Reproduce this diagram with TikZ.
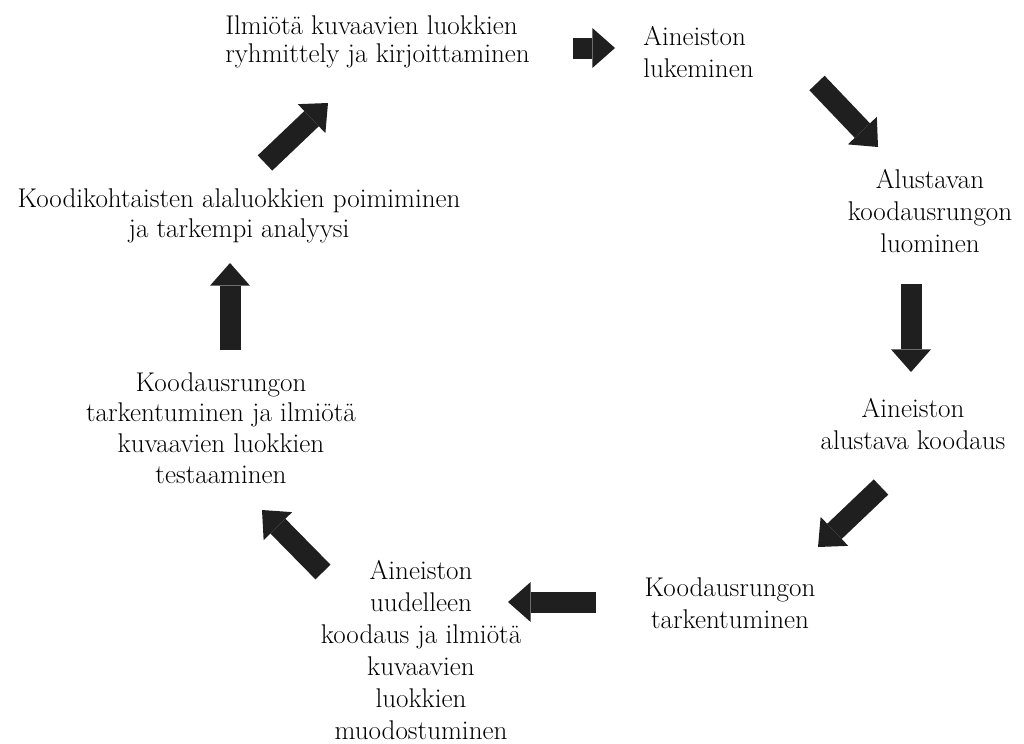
\documentclass[tikz,border=0pt]{standalone}
\usepackage{tikz}
\usetikzlibrary{arrows.meta}

\begin{document}
\begin{tikzpicture}[x=0.75pt,y=-0.75pt,
  phase/.style={inner sep=0pt,font=\fontsize{20.3}{24}\selectfont},
  blockarrow/.style={line width=15.75pt,draw=black!88,-{Triangle[length=17pt,width=30pt,line width=0pt,fill=black!88]}}]
\useasboundingbox (0,0) rectangle (1024,743);
% phases, clockwise from the top
\node[phase,align=left,anchor=west,font=\fontsize{20.3}{20.5}\selectfont] (group) at (225,42) {Ilmiötä kuvaavien luokkien\\ryhmittely ja kirjoittaminen};
\node[phase,align=left,anchor=west] (read) at (643,52) {Aineiston\\lukeminen};
\node[phase,align=center] (frame) at (930,211) {Alustavan\\koodausrungon\\luominen};
\node[phase,align=center] (precode) at (913,424) {Aineiston\\alustava koodaus};
\node[phase,align=center] (refine) at (730,603) {Koodausrungon\\tarkentuminen};
\node[phase,align=center] (recode) at (421,650) {Aineiston\\uudelleen\\koodaus ja ilmiötä\\kuvaavien\\luokkien\\muodostuminen};
\node[phase,align=center,font=\fontsize{20.3}{23}\selectfont] (test) at (221,428) {Koodausrungon\\tarkentuminen ja ilmiötä\\kuvaavien luokkien\\testaaminen};
\node[phase,align=center,font=\fontsize{20.3}{23}\selectfont] (sub) at (239,216) {Koodikohtaisten alaluokkien poimiminen\\ja tarkempi analyysi};

% block arrows between the phases
\coordinate (a1) at (573,48);  \coordinate (b1) at (615,48);
\coordinate (a2) at (817,83);  \coordinate (b2) at (878,147);
\coordinate (a3) at (911,284); \coordinate (b3) at (911,372);
\coordinate (a4) at (881,487); \coordinate (b4) at (818,547);
\coordinate (a5) at (596,602); \coordinate (b5) at (508,602);
\coordinate (a6) at (323,572); \coordinate (b6) at (262,510);
\coordinate (a7) at (230,350); \coordinate (b7) at (230,263);
\coordinate (a8) at (265,163); \coordinate (b8) at (328,103);
\foreach \i in {1,...,8}
  \draw[blockarrow] (a\i) -- (b\i);
\end{tikzpicture}
\end{document}
